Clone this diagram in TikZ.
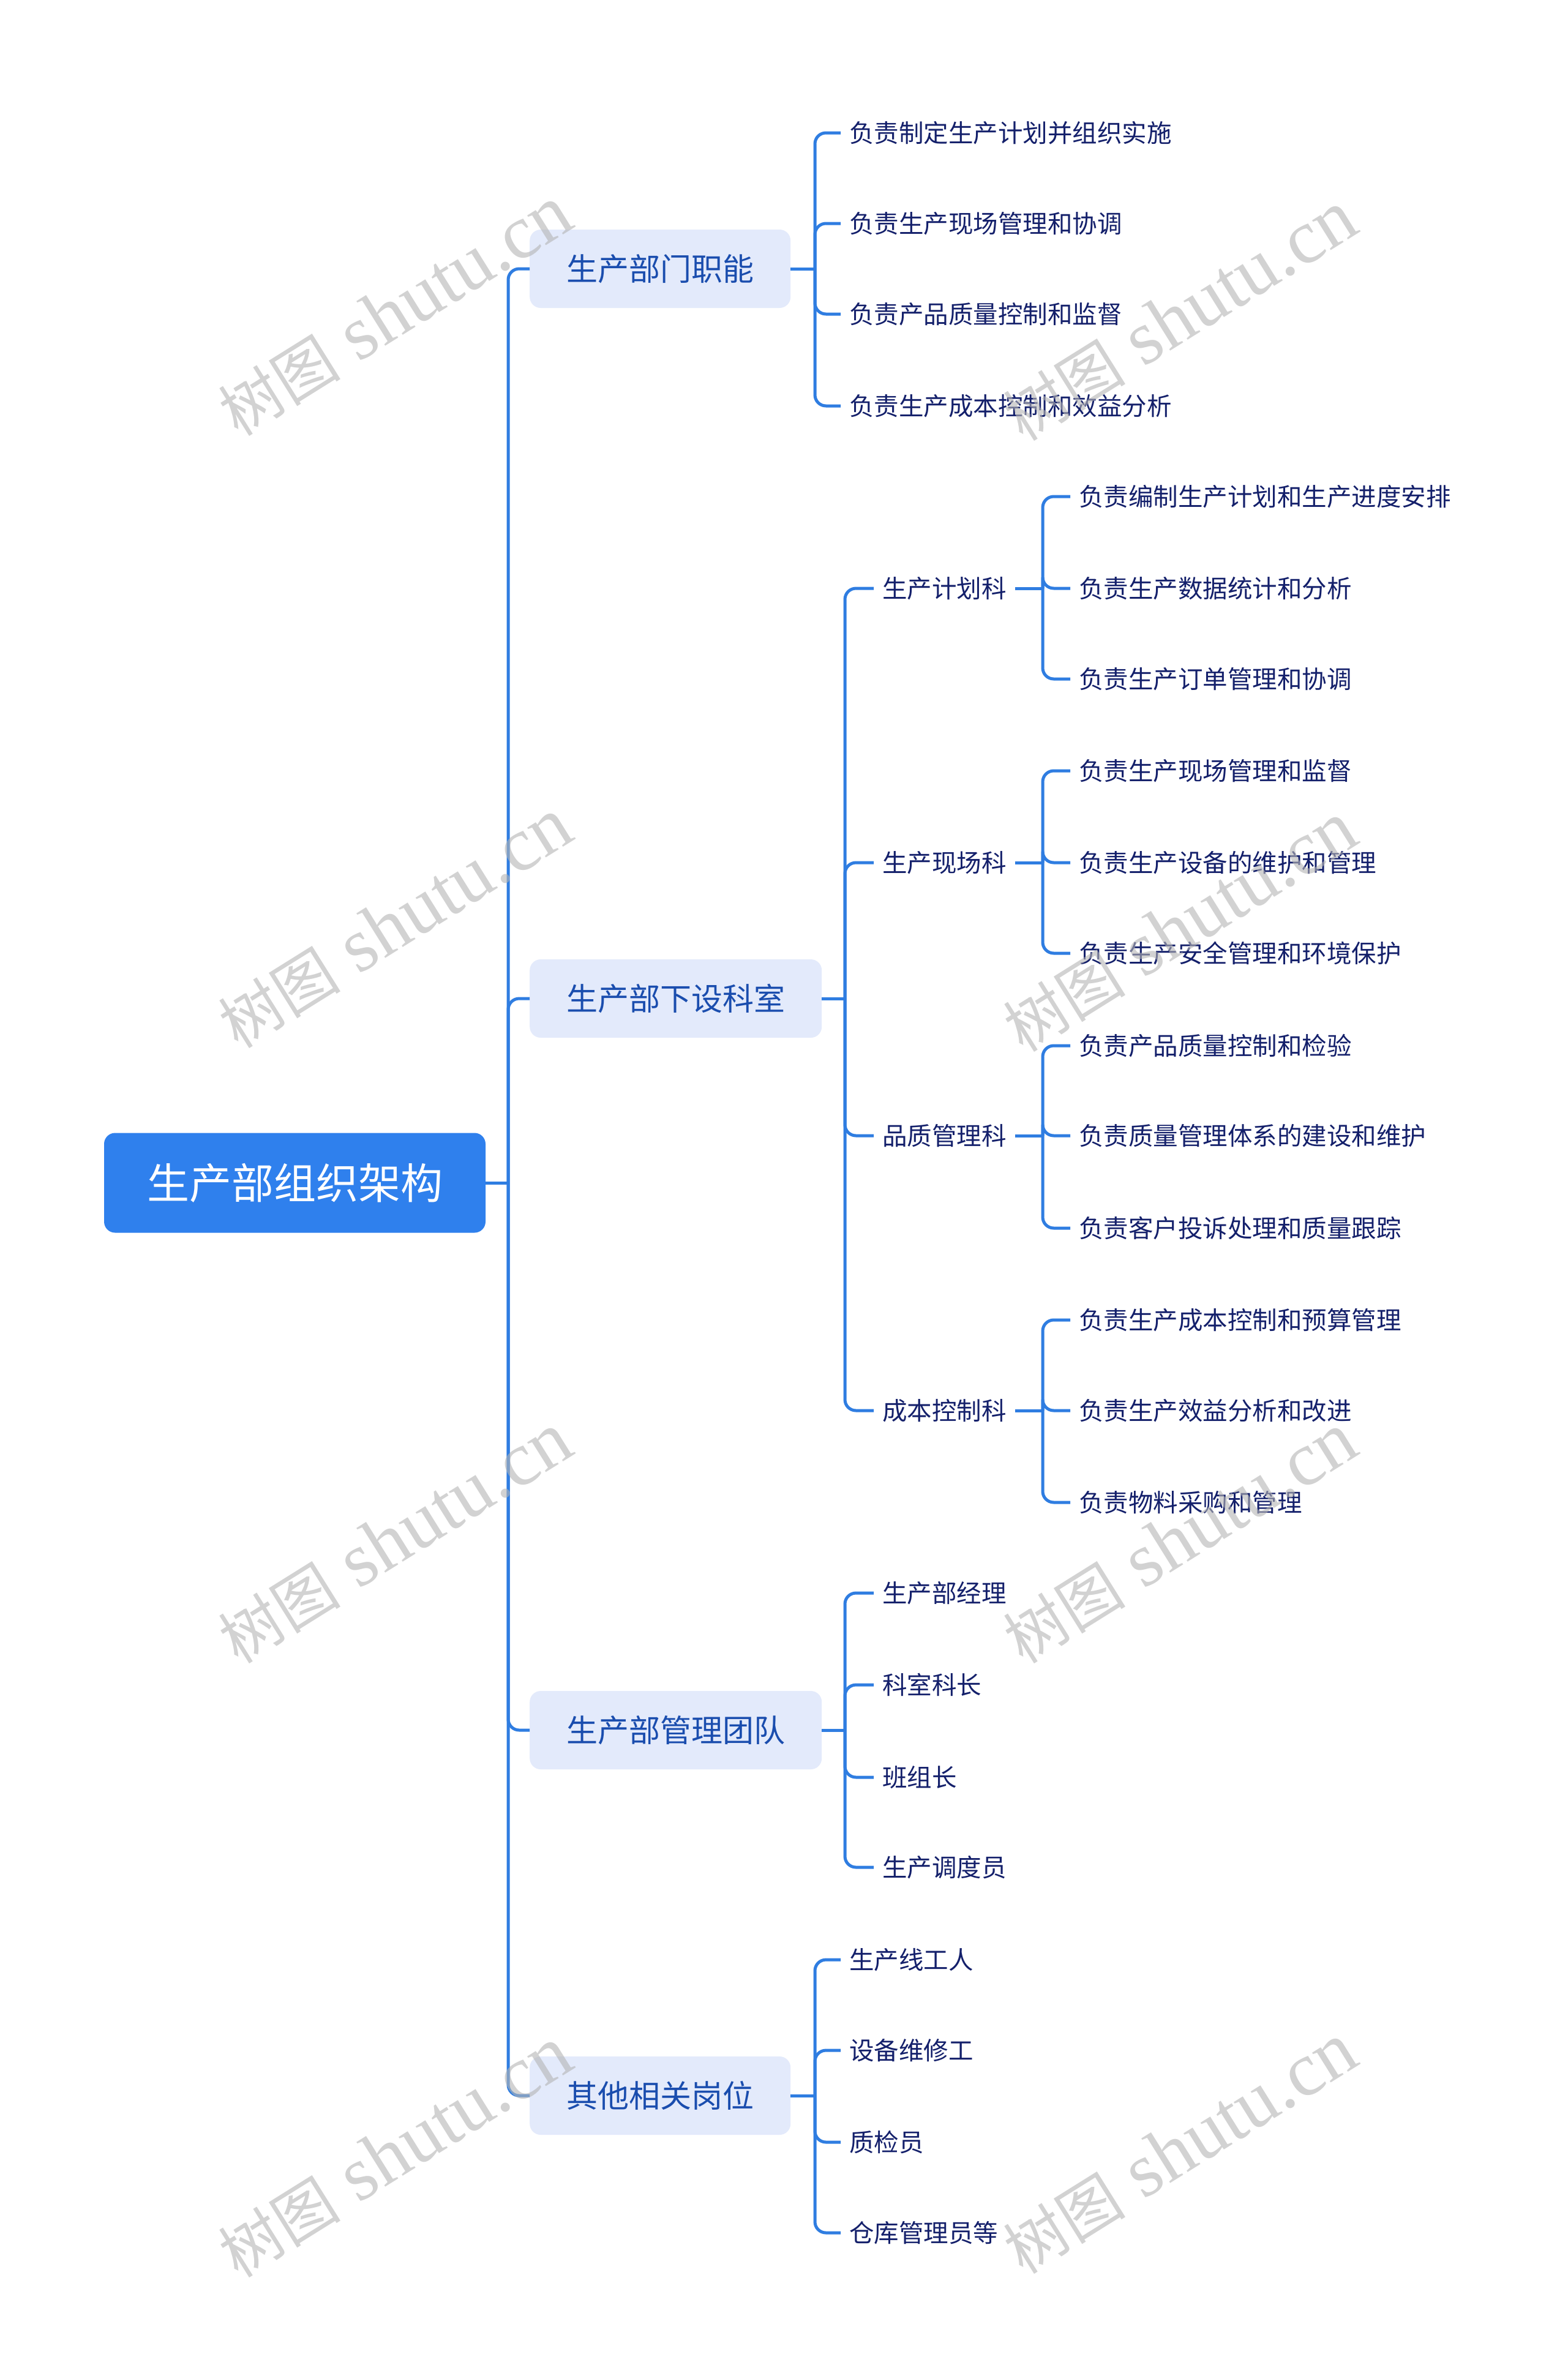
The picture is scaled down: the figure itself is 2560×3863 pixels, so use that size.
\documentclass[tikz,border=0pt]{standalone}
\usepackage{fontspec}
\setmainfont{Noto Sans CJK SC}
\newfontfamily\wmlatin{Liberation Serif}
\newfontfamily\wmcjk{Noto Sans CJK SC}
\definecolor{linec}{HTML}{2F7DE1}
\definecolor{rootc}{HTML}{2F80ED}
\definecolor{lonefill}{HTML}{E3EAFB}
\definecolor{lonetext}{HTML}{1A4DAE}
\definecolor{leaftext}{HTML}{14206B}
\definecolor{wmc}{HTML}{B4B4B4}
\begin{document}
\begin{tikzpicture}[x=1pt,y=-1pt,
  rootbox/.style={fill=rootc, rounded corners=18pt, text=white, font=\fontsize{69}{80}\selectfont, minimum width=623pt, minimum height=163pt, inner sep=0pt},
  lonebox/.style={fill=lonefill, rounded corners=18pt, text=lonetext, font=\fontsize{51}{60}\selectfont, minimum height=128pt, inner xsep=60pt, inner ysep=0pt, anchor=west},
  leaf/.style={text=leaftext, font=\fontsize{40.5}{48}\selectfont, inner xsep=14pt, inner ysep=4pt, anchor=west},
  conn/.style={draw=linec, line width=5pt, rounded corners=18pt},
  wmark/.style={text=wmc, opacity=0.6, rotate=32, inner sep=0pt}
]
\fill[white] (0,0) rectangle (2560,3863);
\useasboundingbox (0,0) rectangle (2560,3863);

% root
\node[rootbox] (root) at (481.5,1932) {生产部组织架构};
\coordinate (tr) at (830,1932);

% level 1
\node[lonebox] (a) at (865,439) {生产部门职能};
\node[lonebox] (b) at (865,1631) {生产部下设科室};
\node[lonebox] (c) at (865,2826) {生产部管理团队};
\node[lonebox] (d) at (865,3423) {其他相关岗位};

\draw[conn] (root.east) -- (tr);
\foreach \n in {a,b,c,d} \draw[conn] (tr) |- (\n.west);

% branch a
\node[leaf] (a1) at (1373,217) {负责制定生产计划并组织实施};
\node[leaf] (a2) at (1373,365) {负责生产现场管理和协调};
\node[leaf] (a3) at (1373,513) {负责产品质量控制和监督};
\node[leaf] (a4) at (1373,663) {负责生产成本控制和效益分析};
\coordinate (ja) at (1331,439);
\draw[conn] (a.east) -- (ja);
\foreach \n in {a1,a2,a3,a4} \draw[conn] (ja) |- (\n.west);

% branch b
\node[leaf] (b1) at (1427,961) {生产计划科};
\node[leaf] (b2) at (1427,1409) {生产现场科};
\node[leaf] (b3) at (1427,1855) {品质管理科};
\node[leaf] (b4) at (1427,2304) {成本控制科};
\coordinate (jb) at (1380,1631);
\draw[conn] (b.east) -- (jb);
\foreach \n in {b1,b2,b3,b4} \draw[conn] (jb) |- (\n.west);

\node[leaf] (b11) at (1748,811) {负责编制生产计划和生产进度安排};
\node[leaf] (b12) at (1748,961) {负责生产数据统计和分析};
\node[leaf] (b13) at (1748,1109) {负责生产订单管理和协调};
\node[leaf] (b21) at (1748,1259) {负责生产现场管理和监督};
\node[leaf] (b22) at (1748,1409) {负责生产设备的维护和管理};
\node[leaf] (b23) at (1748,1557) {负责生产安全管理和环境保护};
\node[leaf] (b31) at (1748,1708) {负责产品质量控制和检验};
\node[leaf] (b32) at (1748,1855) {负责质量管理体系的建设和维护};
\node[leaf] (b33) at (1748,2006) {负责客户投诉处理和质量跟踪};
\node[leaf] (b41) at (1748,2156) {负责生产成本控制和预算管理};
\node[leaf] (b42) at (1748,2304) {负责生产效益分析和改进};
\node[leaf] (b43) at (1748,2454) {负责物料采购和管理};

\foreach \p/\py in {b1/961,b2/1409,b3/1855,b4/2304}{
  \coordinate (j\p) at (1703,\py);
  \draw[conn] (\p.east) -- (j\p);
  \foreach \k in {1,2,3} \draw[conn] (j\p) |- (\p\k.west);
}

% branch c
\node[leaf] (c1) at (1427,2602) {生产部经理};
\node[leaf] (c2) at (1427,2752) {科室科长};
\node[leaf] (c3) at (1427,2903) {班组长};
\node[leaf] (c4) at (1427,3050) {生产调度员};
\coordinate (jc) at (1380,2826);
\draw[conn] (c.east) -- (jc);
\foreach \n in {c1,c2,c3,c4} \draw[conn] (jc) |- (\n.west);

% branch d
\node[leaf] (d1) at (1373,3201) {生产线工人};
\node[leaf] (d2) at (1373,3349) {设备维修工};
\node[leaf] (d3) at (1373,3499) {质检员};
\node[leaf] (d4) at (1373,3647) {仓库管理员等};
\coordinate (jd) at (1331,3423);
\draw[conn] (d.east) -- (jd);
\foreach \n in {d1,d2,d3,d4} \draw[conn] (jd) |- (\n.west);

% watermarks
\foreach \wx/\wy [count=\i] in {645/509, 1927/517, 645/1509, 1927/1515, 645/2513, 1927/2513, 645/3516, 1927/3510}
  \node[wmark] (wm\i) at (\wx,\wy) {{\wmcjk\fontsize{100}{110}\selectfont 树图}{\wmlatin\fontsize{125}{130}\selectfont\ shutu.cn}};
\end{tikzpicture}
\end{document}
